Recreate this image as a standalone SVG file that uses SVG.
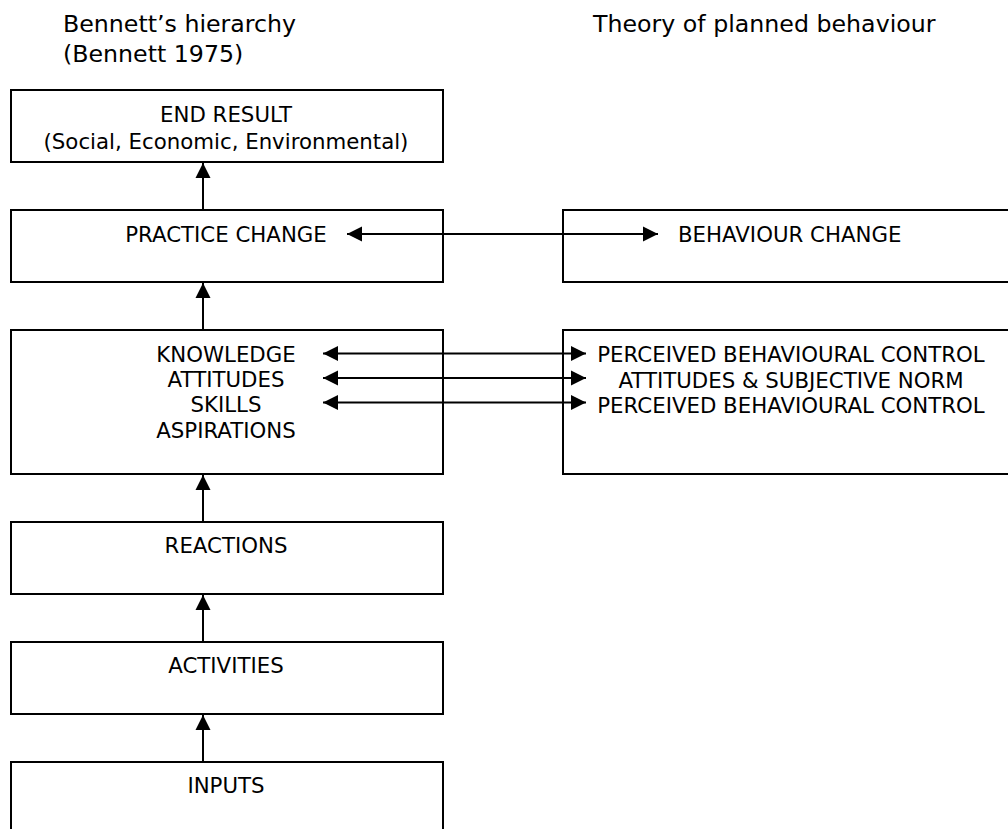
<svg xmlns="http://www.w3.org/2000/svg" width="1008" height="829" viewBox="0 0 1008 829">
<style>
.box{fill:#fff;stroke:#000;stroke-width:2}
.t{font-family:"DejaVu Sans",Verdana,sans-serif;font-size:21.3px;fill:#000;text-anchor:middle}
.title{font-family:"DejaVu Sans",Verdana,sans-serif;font-size:23.7px;fill:#000}
.c{stroke:#000;stroke-width:2;fill:none}
</style>
<defs>
<marker id="ah" markerUnits="userSpaceOnUse" markerWidth="16" markerHeight="16" viewBox="0 0 16 16" refX="15" refY="8" orient="auto-start-reverse">
<path d="M0,0.5 L15,8 L0,15.5 Z" fill="#000"/>
</marker>
</defs>
<rect width="1008" height="829" fill="#fff"/>
<g id="titles">
<text class="title" x="63" y="32">Bennett’s hierarchy</text>
<text class="title" x="63" y="62">(Bennett 1975)</text>
<text class="title" x="593" y="32">Theory of planned behaviour</text>
</g>
<g id="end-result">
<rect class="box" x="11" y="90" width="432" height="72"/>
<text class="t" x="226" y="122">END RESULT</text>
<text class="t" x="226" y="149">(Social, Economic, Environmental)</text>
</g>
<g id="practice-change">
<rect class="box" x="11" y="210" width="432" height="72"/>
<text class="t" x="226" y="242">PRACTICE CHANGE</text>
</g>
<g id="knowledge">
<rect class="box" x="11" y="330" width="432" height="144"/>
<text class="t" x="226" y="362">KNOWLEDGE</text>
<text class="t" x="226" y="387">ATTITUDES</text>
<text class="t" x="226" y="412">SKILLS</text>
<text class="t" x="226" y="438">ASPIRATIONS</text>
</g>
<g id="reactions">
<rect class="box" x="11" y="522" width="432" height="72"/>
<text class="t" x="226" y="553">REACTIONS</text>
</g>
<g id="activities">
<rect class="box" x="11" y="642" width="432" height="72"/>
<text class="t" x="226" y="673">ACTIVITIES</text>
</g>
<g id="inputs">
<rect class="box" x="11" y="762" width="432" height="100"/>
<text class="t" x="226" y="793">INPUTS</text>
</g>
<g id="behaviour-change">
<rect class="box" x="563" y="210" width="460" height="72"/>
<text class="t" x="678" y="242" style="text-anchor:start">BEHAVIOUR CHANGE</text>
</g>
<g id="tpb-factors">
<rect class="box" x="563" y="330" width="460" height="144"/>
<text class="t" x="791" y="362">PERCEIVED BEHAVIOURAL CONTROL</text>
<text class="t" x="791" y="388">ATTITUDES &amp; SUBJECTIVE NORM</text>
<text class="t" x="791" y="413">PERCEIVED BEHAVIOURAL CONTROL</text>
</g>
<g id="connectors">
<line class="c" x1="203" y1="210" x2="203" y2="163" marker-end="url(#ah)"/>
<line class="c" x1="203" y1="330" x2="203" y2="283" marker-end="url(#ah)"/>
<line class="c" x1="203" y1="522" x2="203" y2="475" marker-end="url(#ah)"/>
<line class="c" x1="203" y1="642" x2="203" y2="595" marker-end="url(#ah)"/>
<line class="c" x1="203" y1="762" x2="203" y2="715" marker-end="url(#ah)"/>
<line class="c" x1="347" y1="234" x2="658" y2="234" marker-start="url(#ah)" marker-end="url(#ah)"/>
<line class="c" x1="323" y1="353.5" x2="586" y2="353.5" marker-start="url(#ah)" marker-end="url(#ah)"/>
<line class="c" x1="323" y1="378" x2="586" y2="378" marker-start="url(#ah)" marker-end="url(#ah)"/>
<line class="c" x1="323" y1="402.5" x2="586" y2="402.5" marker-start="url(#ah)" marker-end="url(#ah)"/>
</g>
</svg>
